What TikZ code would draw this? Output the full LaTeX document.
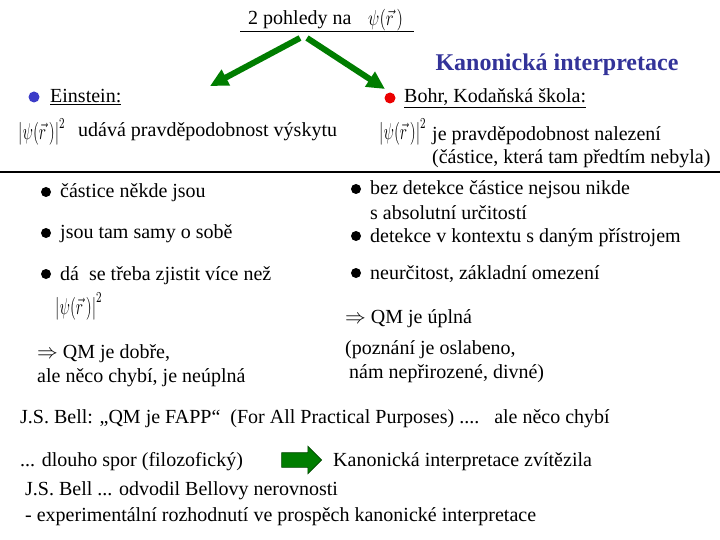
\documentclass[tikz,border=0pt]{standalone}
\usepackage{fontspec}
\usepackage{graphicx}
\setmainfont{Liberation Serif}
\usetikzlibrary{arrows.meta,shapes.arrows}
\definecolor{tblue}{RGB}{51,51,153}
\definecolor{dotblue}{RGB}{60,60,200}
\definecolor{dotred}{RGB}{235,0,0}
\definecolor{agreen}{RGB}{0,125,0}
\definecolor{adark}{RGB}{0,70,0}
\newcommand{\psisq}{\scalebox{1.3}[1.9]{$\left|\psi\bigl(\vec{r}\,\bigr)\right|^2$}}
\begin{document}
\begin{tikzpicture}[x=1pt,y=-1pt,
  txt/.style={anchor=base west,inner sep=0pt,font=\fontsize{20}{22}\selectfont},
  psi/.style={anchor=base west,inner sep=0pt,font=\fontsize{12}{14}\selectfont},
  ttl/.style={anchor=base west,inner sep=0pt,font=\fontsize{20}{22}\selectfont},
  bdot/.style={circle,fill=black,inner sep=0pt,minimum size=10pt},
  cdot/.style={circle,inner sep=0pt,minimum size=11pt},
  garrow/.style={draw=agreen,line width=6pt,-{Triangle[length=18pt,width=17pt]}},
  rule/.style={line width=1.2pt}]
\useasboundingbox (0,0) rectangle (720,540);
% title
\node[ttl] (t1) at (248,25) {2 pohledy na};
\node[ttl] (t2) at (368,26) {\scalebox{1.4}[1.8]{\fontsize{12}{14}\selectfont$\psi\bigl(\vec{r}\,\bigr)$}};
\coordinate (tl) at (240,32);
\coordinate (tr) at (414,32);
\draw[line width=1pt] (tl) -- (tr);
\coordinate (aL) at (300,38);
\coordinate (aLt) at (210,86);
\coordinate (aR) at (307,38);
\coordinate (aRt) at (385,89);
\draw[garrow] (aL) -- (aLt);
\draw[garrow] (aR) -- (aRt);
% Kanonicka
\node[anchor=base,inner sep=0pt,font=\fontsize{24}{26}\selectfont\bfseries,text=tblue] (kan) at (557,71) {Kanonická interpretace};
% Einstein
\node[cdot,fill=dotblue] (d1) at (34,97) {};
\node[txt] (ein) at (50,103) {\underline{Einstein:}};
\node[cdot,fill=dotred] (d2) at (390,98) {};
\node[txt] (bohr) at (404,103) {\underline{Bohr, Kodaňská škola:}};
\node[psi] (p1) at (18,140) {\psisq};
\node[txt] (e1) at (78,137) {udává pravděpodobnost výskytu};
\node[psi] (p2) at (379,140) {\psisq};
\node[txt] (b1) at (432,141) {je pravděpodobnost nalezení};
\node[txt] (b2) at (432,164) {(částice, která tam předtím nebyla)};
\coordinate (hl) at (0,172);
\coordinate (hr) at (720,172);
\draw[rule] (hl) -- (hr);
% left bullets
\node[bdot] (l1) at (46,192) {};
\node[txt] (lt1) at (60,198) {částice někde jsou};
\node[bdot] (l2) at (46,233) {};
\node[txt] (lt2) at (60,239) {jsou tam samy o sobě};
\node[bdot] (l3) at (46,274) {};
\node[txt] (lt3) at (60,280) {dá\ \ se třeba zjistit více než};
\node[psi] (lp) at (55,314) {\psisq};
\node[txt] (lq1) at (37,358) {$\Rightarrow$ QM je dobře,};
\node[txt] (lq2) at (37,382) {ale něco chybí, je neúplná};
% right bullets
\node[bdot] (r1) at (356,189) {};
\node[txt] (rt1) at (370,195) {bez detekce částice nejsou nikde};
\node[txt] (rt1b) at (370,220) {s absolutní určitostí};
\node[bdot] (r2) at (356,236) {};
\node[txt] (rt2) at (370,242) {detekce v kontextu s daným přístrojem};
\node[bdot] (r3) at (356,273) {};
\node[txt] (rt3) at (370,279) {neurčitost, základní omezení};
\node[txt] (rq) at (345,323) {$\Rightarrow$ QM je úplná};
\node[txt] (rq1) at (345,354) {(poznání je oslabeno,};
\node[txt] (rq2) at (349,378) {nám nepřirozené, divné)};
% bottom
\node[txt] (bell) at (20,423) {J.S. Bell: „QM je FAPP“\ \ (For All Practical Purposes) ....\ \ \ ale něco chybí};
\node[txt] (spor) at (20,466) {... dlouho spor (filozofický)};
\node[single arrow,draw=adark,fill=agreen,line width=0.6pt,minimum height=40pt,single arrow head extend=6.5pt,inner sep=0pt] (ba) at (298,460) {\rule{0pt}{14pt}};
\node[txt] (zv) at (333,466) {Kanonická interpretace zvítězila};
\node[txt] (bl1) at (25,495) {J.S. Bell ... odvodil Bellovy nerovnosti};
\node[txt] (bl2) at (25,521) {- experimentální rozhodnutí ve prospěch kanonické interpretace};
\end{tikzpicture}
\end{document}
